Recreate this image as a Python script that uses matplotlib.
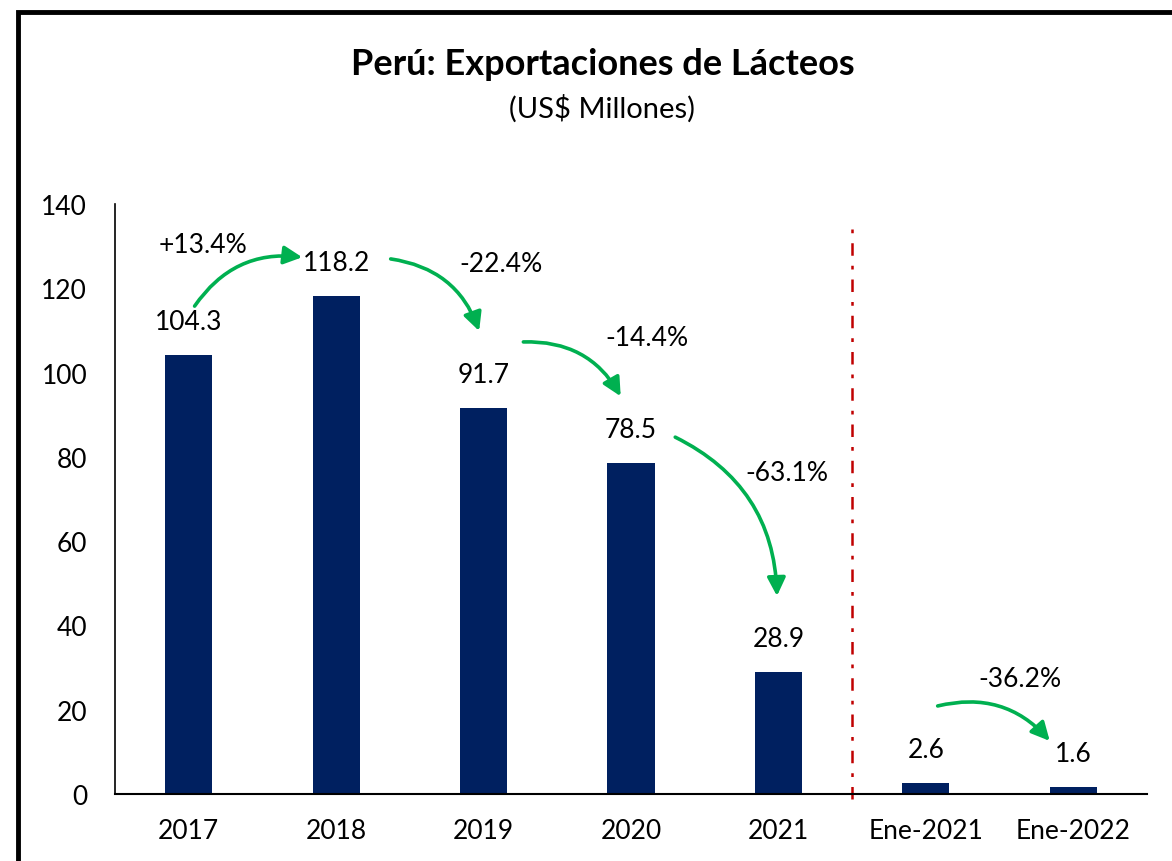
import matplotlib.pyplot as plt
from matplotlib.patches import Rectangle

plt.rcParams['font.family'] = ['Lato', 'DejaVu Sans']

categorias = ["2017", "2018", "2019", "2020", "2021", "Ene-2021", "Ene-2022"]
valores = [104.3, 118.2, 91.7, 78.5, 28.9, 2.6, 1.6]
etiquetas = ["104.3", "118.2", "91.7", "78.5", "28.9", "2.6", "1.6"]

# variaciones: (texto, posición del texto, inicio flecha, fin flecha)
variaciones = [
    ("+13.4%", (0.10, 130.5), (0.04, 115.8), (0.77, 127.4)),
    ("-22.4%", (2.12, 125.8), (1.37, 127.0), (1.97, 109.9)),
    ("-14.4%", (3.11, 108.4), (2.27, 107.3), (2.93, 94.4)),
    ("-63.1%", (4.06, 76.4), (3.30, 84.7), (3.99, 47.0)),
    ("-36.2%", (5.64, 27.3), (5.08, 20.9), (5.84, 12.6)),
]

azul = "#002060"
verde = "#00B050"
rojo = "#C00000"

fig = plt.figure(figsize=(11.72, 8.62), dpi=100)
ax = fig.add_axes([0.0981, 0.0777, 0.8806, 0.6843])

x = list(range(len(categorias)))
barras = ax.bar(x, valores, width=0.32, color=azul)

for xi, v, t in zip(x, valores, etiquetas):
    ax.annotate(t, (xi, v), xytext=(0, 24), textcoords="offset points",
                ha="center", va="center", fontsize=19)

for texto, pos, ini, fin in variaciones:
    ax.text(pos[0], pos[1], texto, ha="center", va="center", fontsize=19)
    ax.annotate("", xy=fin, xytext=ini,
                arrowprops=dict(arrowstyle="-|>,head_length=1.1,head_width=0.55",
                                color=verde, lw=2.6,
                                connectionstyle="arc3,rad=-0.3",
                                shrinkA=0, shrinkB=0))

# línea separadora
ax.plot([4.5, 4.5], [-1.2, 134.5], color=rojo, lw=1.8, linestyle=(0, (5, 4, 1.5, 4)),
        clip_on=False)

ax.set_xlim(-0.5, 6.5)
ax.set_ylim(0, 140)
ax.set_yticks(range(0, 141, 20))
ax.set_xticks(x)
ax.set_xticklabels(categorias)
ax.tick_params(axis="both", length=0, labelsize=19)
ax.tick_params(axis="y", pad=20)
ax.tick_params(axis="x", pad=17)
ax.spines["top"].set_visible(False)
ax.spines["right"].set_visible(False)
ax.spines["left"].set_linewidth(1.2)
ax.spines["bottom"].set_linewidth(1.5)

fig.text(0.514, 0.925, "Perú: Exportaciones de Lácteos", ha="center", va="center",
         fontsize=26, fontweight="bold")
fig.text(0.514, 0.874, "(US$ Millones)", ha="center", va="center", fontsize=21)

# marco negro
fig.patches.append(Rectangle((0.0154, -0.2), 1.3, 1.185, transform=fig.transFigure,
                             fill=False, edgecolor="black", lw=3.5))

fig.savefig("out.png", dpi=100)
